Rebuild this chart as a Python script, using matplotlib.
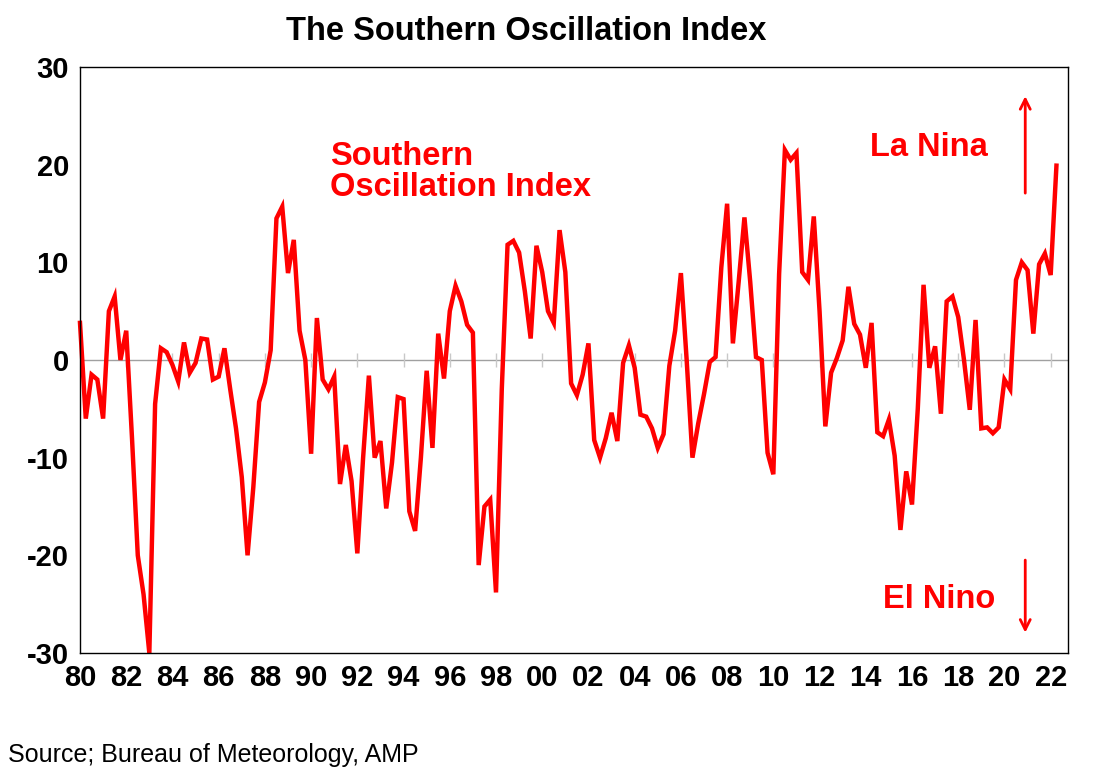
import numpy as np
import matplotlib.pyplot as plt

plt.rcParams['font.family'] = ['Liberation Sans', 'DejaVu Sans']
plt.rcParams['axes.unicode_minus'] = False

start_year = 1980
soi = [3.8, -6, -1.5, -2, -6, 5, 6.5, 0, 3, -8, -20, -24,
       -30, -4.5, 1.2, 0.8, -0.5, -2.2, 1.8, -1.3, -0.3, 2.2, 2.1, -2,
       -1.7, 1.2, -3, -7, -12, -20, -13, -4.3, -2.3, 1, 14.5, 15.7,
       8.9, 12.3, 3, 0, -9.6, 4.3, -2, -3, -1.7, -12.7, -8.7, -12.4,
       -19.8, -10, -1.6, -10, -8.3, -15.2, -10.5, -3.8, -4, -15.5, -17.5, -10,
       -1.1, -9, 2.7, -1.9, 5, 7.6, 6, 3.6, 2.8, -21, -15, -14.3,
       -23.8, -3, 11.8, 12.2, 11, 7, 2.2, 11.7, 9, 5, 3.8, 13.3,
       9, -2.4, -3.6, -1.5, 1.7, -8.2, -10, -8, -5.4, -8.3, -0.3, 1.5,
       -0.8, -5.6, -5.8, -7, -9, -7.6, -0.6, 3, 8.9, 0, -10, -6.5,
       -3.5, -0.2, 0.3, 9.5, 16, 1.7, 8, 14.6, 8, 0.3, 0, -9.5,
       -11.7, 8.8, 21.5, 20.5, 21.2, 9, 8.2, 14.7, 5, -6.8, -1.3, 0.2,
       2, 7.5, 3.7, 2.6, -0.8, 3.8, -7.4, -7.8, -6.1, -9.8, -17.4, -11.4,
       -14.8, -5, 7.7, -0.8, 1.4, -5.5, 6, 6.5, 4.4, 0, -5.1, 4.1,
       -7, -6.9, -7.5, -6.9, -2, -3, 8.2, 10, 9.2, 2.7, 9.8, 10.9,
       8.7, 19.9]
years = start_year + np.arange(len(soi)) / 4
tick_years = np.arange(1980, 2023, 2)
tick_labels = ['%02d' % (y % 100) for y in tick_years]

fig = plt.figure(figsize=(11.1, 7.83), dpi=100)
ax = fig.add_axes([80/1110, 1 - 653/783, 988/1110, 586/783])

ax.axhline(0, color='#a0a0a0', lw=1)
ax.plot(tick_years, np.zeros(len(tick_years)), '|', color='#c8c8c8', ms=10)
ax.plot(years, soi, color='#ff0000', lw=3.2, solid_joinstyle='miter', clip_on=False)

ax.set_xlim(1980, 2022.75)
ax.set_ylim(-30, 30)
ax.set_yticks([-30, -20, -10, 0, 10, 20, 30])
ax.set_xticks(tick_years)
ax.set_xticklabels(tick_labels)
ax.tick_params(labelsize=21, length=0, pad=8)
for lab in ax.get_xticklabels() + ax.get_yticklabels():
    lab.set_fontweight('bold')
for s in ax.spines.values():
    s.set_linewidth(1)

fig.text(526/1110, 1 - 32/783, 'The Southern Oscillation Index', fontsize=23.5,
         fontweight='bold', ha='center', va='center')
ax.text(1990.82, 19.3, 'Southern\nOscillation Index', color='#ff0000', fontsize=23.5,
        fontweight='bold', va='center', linespacing=1.0)
ax.text(2014.18, 21.8, 'La Nina', color='#ff0000', fontsize=23.5, fontweight='bold', va='center')
ax.text(2014.75, -24.5, 'El Nino', color='#ff0000', fontsize=23.5, fontweight='bold', va='center')
ax.annotate('', xy=(2020.9, 27.3), xytext=(2020.9, 16.8),
            arrowprops=dict(arrowstyle='->', color='#ff0000', lw=2, mutation_scale=18))
ax.annotate('', xy=(2020.9, -28.2), xytext=(2020.9, -20.2),
            arrowprops=dict(arrowstyle='->', color='#ff0000', lw=2, mutation_scale=18))

fig.text(8/1110, 1 - 755/783, 'Source; Bureau of Meteorology, AMP', fontsize=18, va='center')

fig.savefig('out.png', dpi=100)
